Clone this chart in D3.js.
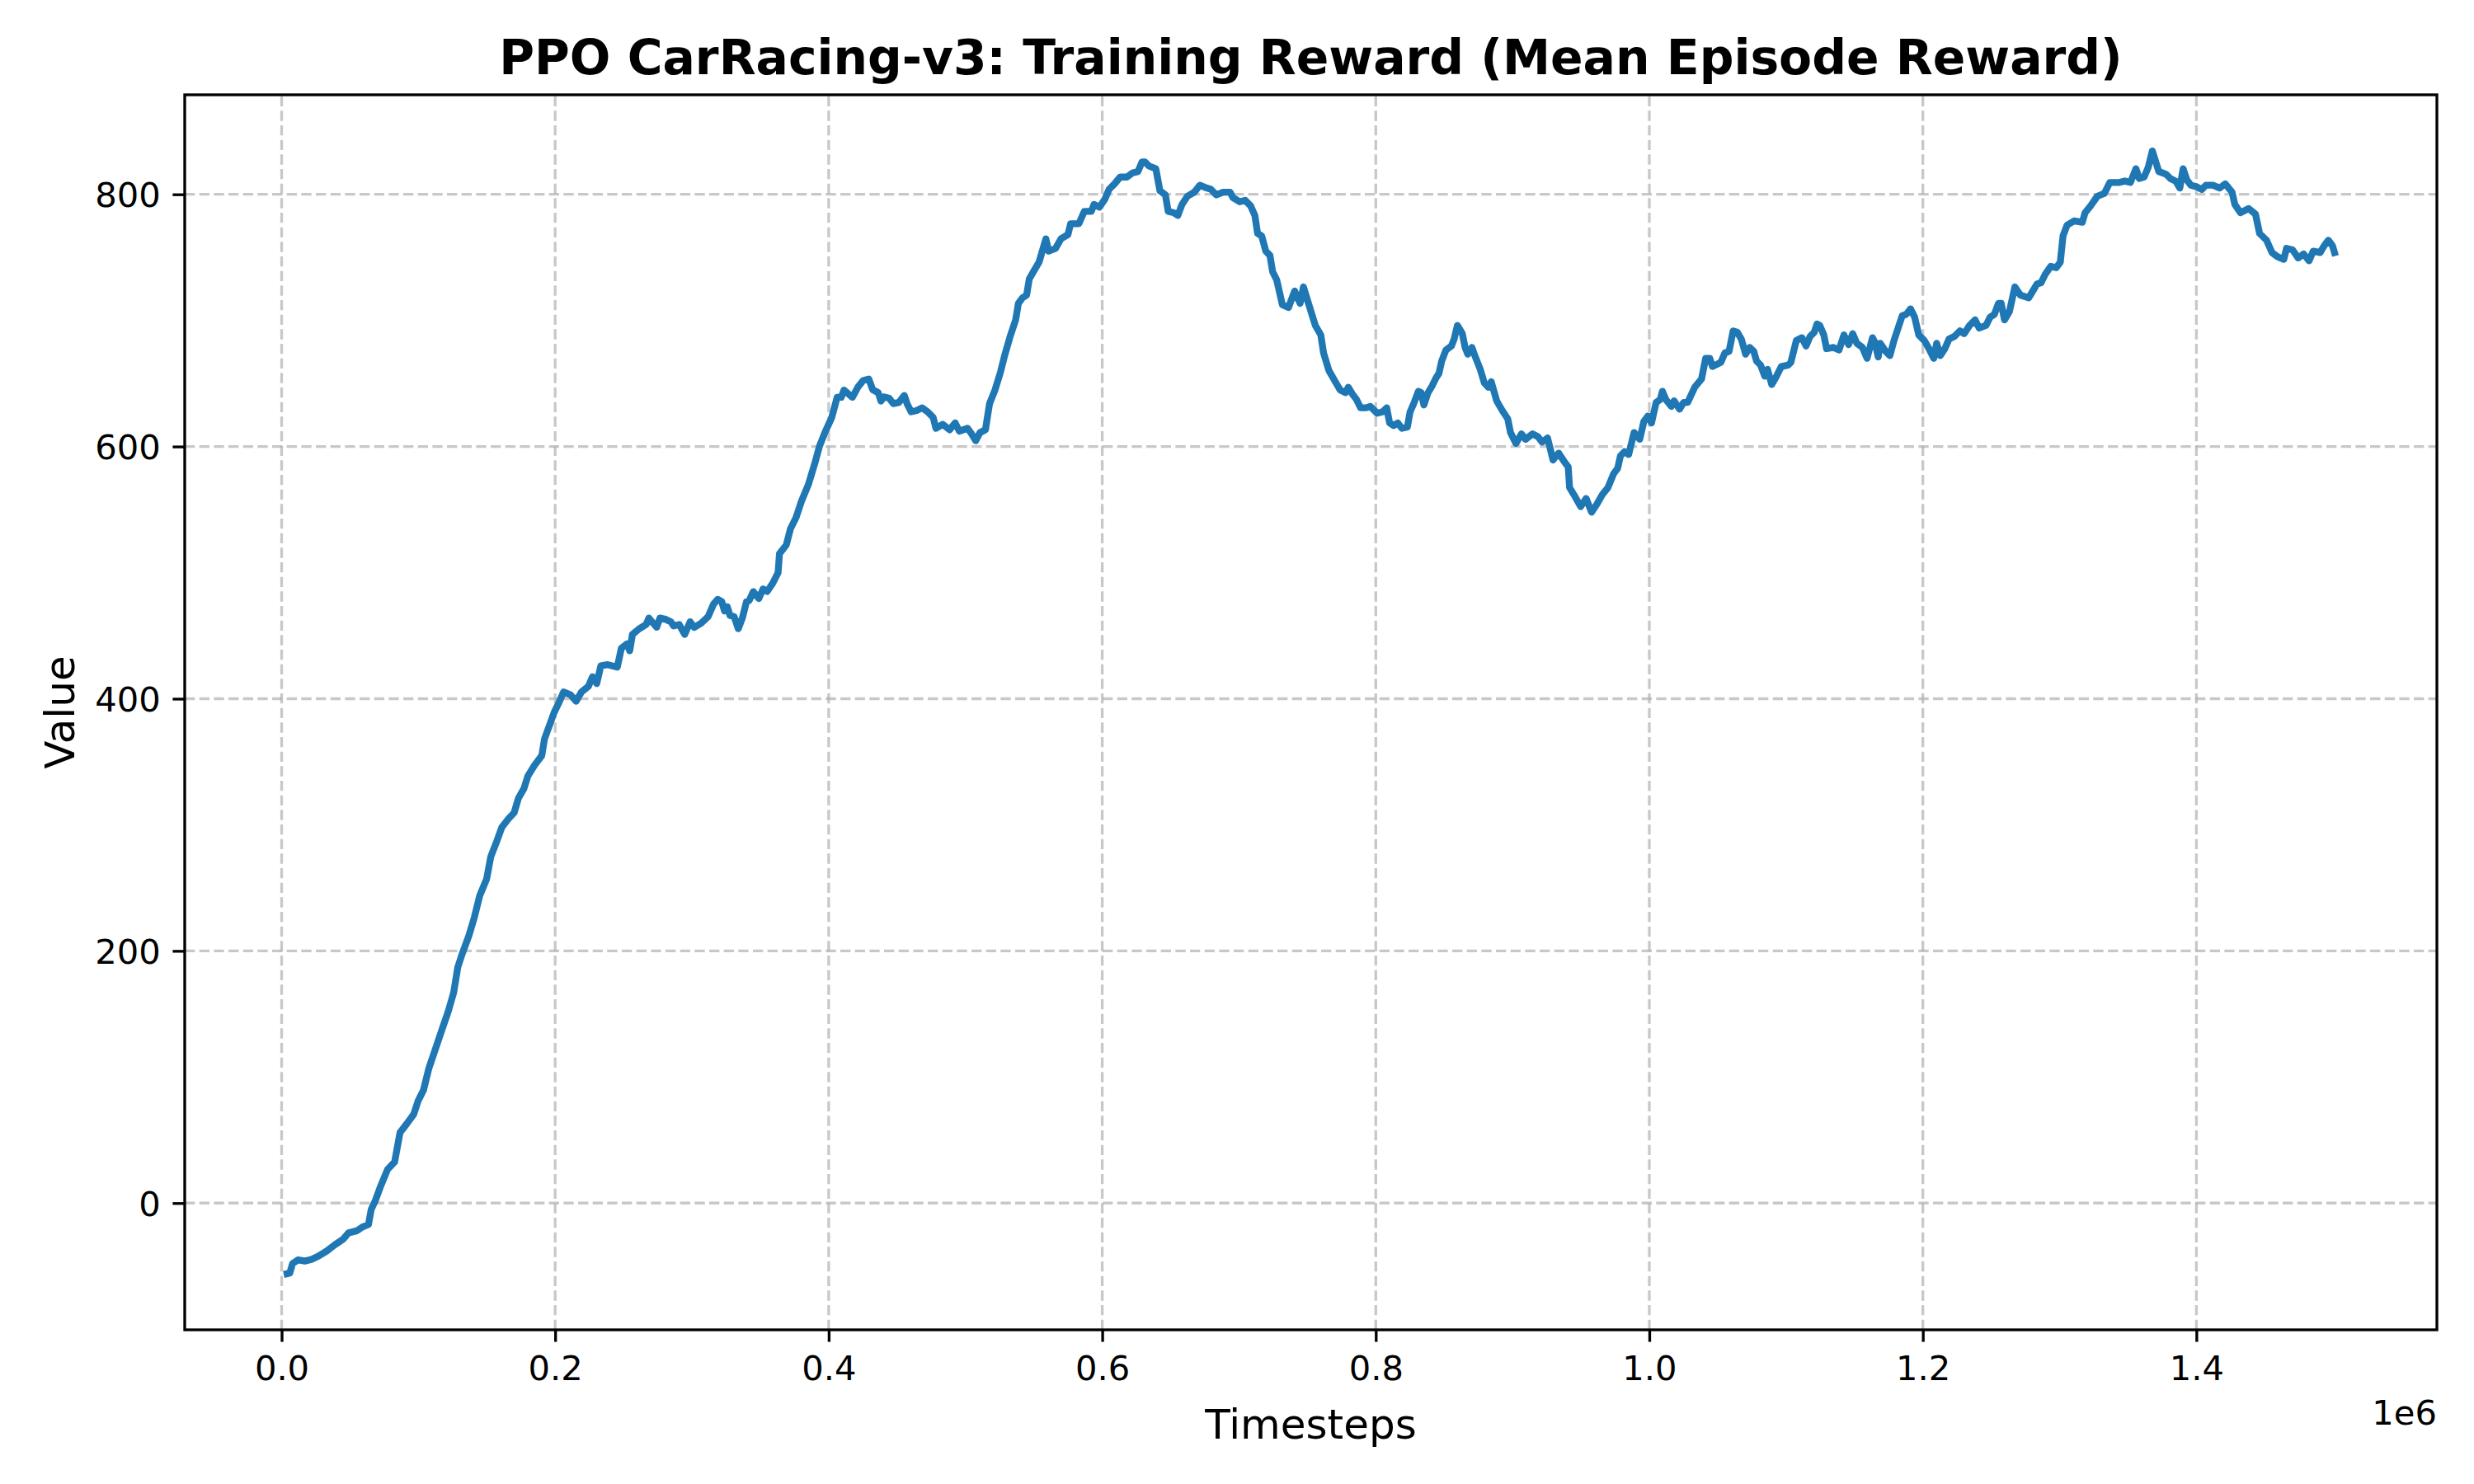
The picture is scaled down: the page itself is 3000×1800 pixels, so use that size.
<!DOCTYPE html>
<html>
<head>
<meta charset="utf-8">
<script src="https://cdn.jsdelivr.net/npm/d3@7"></script>
<style>
    body { margin: 0; background: #fff; }
    text { font-family: "DejaVu Sans", sans-serif; fill: #000; }
</style>
</head>
<body>
<div id="chart"></div>
<script>
// mean episode reward
var timesteps = [4000, 6000, 8000, 12000, 17000, 22000, 27000, 33000, 39000, 45000, 49000, 55000, 59000, 63500, 65500, 68500, 72500, 77500, 82600, 86600,
    91600, 96600, 99700, 103700, 107700, 112700, 117700, 121800, 125800, 128800, 131800, 136900, 140900, 144900, 149900, 152900, 157000, 161000, 166000, 170000,
    173100, 177100, 180100, 185100, 190200, 192200, 196200, 199200, 202200, 206200, 211300, 215300, 219300, 224300, 227300, 230400, 233400, 238400, 245400, 248400,
    252500, 254500, 256500, 261500, 266500, 268500, 274200, 276600, 280600, 284600, 286600, 290700, 294700, 298700, 301700, 306700, 311800, 315800, 318800, 321800,
    323800, 325800, 327800, 330900, 333900, 336900, 339900, 341900, 344900, 348900, 352000, 355000, 359000, 363000, 364000, 369000, 372100, 376100, 380100, 385100,
    390200, 393200, 397200, 402200, 406200, 409200, 411200, 417300, 421300, 425300, 429300, 432200, 436200, 438200, 440200, 444200, 447200, 451300, 455300, 457300,
    460300, 464300, 468300, 472400, 476400, 478400, 483400, 488400, 492500, 495500, 501500, 504500, 507500, 510600, 514600, 517600, 521600, 525600, 528600, 532700,
    536700, 538700, 541700, 544700, 546700, 550800, 553800, 558800, 560800, 565800, 569800, 574900, 576900, 582900, 586900, 592000, 594000, 598000, 602000, 605000,
    609000, 613100, 618100, 622100, 626100, 629100, 631200, 634200, 639200, 642200, 646200, 648200, 652300, 655300, 658300, 662300, 667300, 671400, 676400, 679400,
    683400, 688400, 693500, 695500, 700500, 704500, 708500, 711600, 713600, 716600, 719600, 722600, 724600, 727600, 731700, 736200, 740700, 744700, 747100, 750800,
    755800, 759800, 761800, 765800, 769800, 773900, 777900, 779900, 782900, 785900, 788900, 793000, 796000, 801000, 805000, 808000, 810100, 813100, 816100, 819100,
    823100, 825100, 828100, 831200, 833200, 835200, 838200, 841200, 844200, 846200, 848200, 851300, 855300, 857300, 859700, 863300, 865300, 867300, 870300, 872400,
    876400, 879400, 882400, 884400, 888400, 892500, 896500, 898500, 902500, 906500, 909500, 914600, 918600, 921600, 925600, 929600, 933700, 937700, 940700, 941700,
    944700, 949800, 953800, 957800, 961800, 965800, 969800, 973900, 976900, 978900, 981900, 984900, 988900, 993000, 996000, 999000, 1001600, 1005000, 1008000, 1009600,
    1012100, 1016100, 1018100, 1022100, 1025100, 1028100, 1033200, 1038200, 1041200, 1044200, 1046200, 1052300, 1055300, 1058300, 1061300, 1064300, 1067300, 1070400, 1073400, 1076400,
    1078400, 1081400, 1084400, 1086400, 1089500, 1092500, 1096500, 1101500, 1103500, 1107500, 1111600, 1114600, 1117600, 1120600, 1122600, 1124600, 1127600, 1129600, 1134700, 1138700,
    1142300, 1145700, 1148700, 1151700, 1155800, 1159200, 1163200, 1164800, 1167400, 1168800, 1172900, 1175900, 1178900, 1181900, 1184900, 1187900, 1191000, 1194000, 1197000, 1201000,
    1204000, 1208000, 1210100, 1212700, 1216100, 1219100, 1223100, 1227100, 1230200, 1234200, 1238200, 1241200, 1246200, 1249200, 1252300, 1255300, 1257300, 1259700, 1263300, 1267300,
    1271400, 1277400, 1280400, 1283400, 1286400, 1289400, 1293500, 1297500, 1300500, 1302500, 1305500, 1310600, 1316600, 1318600, 1322600, 1327600, 1332700, 1336700, 1343700, 1347700,
    1351800, 1355800, 1358200, 1361800, 1364800, 1367800, 1372500, 1377900, 1380900, 1384900, 1387900, 1390300, 1393000, 1396000, 1400000, 1404000, 1407000, 1412100, 1417100, 1421100,
    1426100, 1428100, 1432200, 1438200, 1443200, 1446200, 1451300, 1455300, 1459300, 1463900, 1465900, 1470300, 1474400, 1478400, 1482400, 1485400, 1490500, 1493500, 1496500, 1499500,
    1501000];

var rewards = [-56, -55.5, -48, -45, -46, -44.6, -42, -38, -33, -28.6, -23.6, -22, -19, -17, -5, 2, 13.7, 26.8, 32.6, 56,
    63, 70.5, 80.8, 89.5, 107, 123, 139, 152, 167, 187, 197, 212, 226.5, 244, 257, 274.6, 286, 298, 305, 309.6,
    321, 328.6, 338.8, 347.5, 354.8, 368, 380, 389, 395.6, 405.4, 403, 398, 405.4, 409.8, 417.4, 412, 426, 427, 425, 440,
    443.5, 438, 451, 455.5, 458.8, 464, 456.6, 464, 463, 461, 457.7, 458.8, 451, 461, 456.6, 459.8, 465, 475, 478.8, 477,
    469.6, 473, 466, 465, 455.5, 464, 477, 478, 484.9, 479.4, 487, 485, 491.4, 500, 515, 521.9, 535, 543.6, 556.7, 569.7,
    588, 600, 611, 623, 639, 639, 644.8, 639, 647, 652.4, 653.5, 645, 642.7, 636, 639.4, 638.3, 634, 635, 640.5, 634,
    627.5, 628.5, 630.7, 627.5, 623, 614.4, 617.6, 613.3, 618.7, 612.2, 614.4, 610, 604.6, 611, 613.3, 634, 644.9, 659, 672, 687.4,
    700.4, 713.5, 717.9, 720, 733, 740.7, 746.2, 764.7, 754.9, 757, 764.7, 768, 776.7, 776.7, 786.5, 786.5, 792, 789.8, 796.3, 804,
    808.3, 813.7, 813.7, 817, 818, 825.7, 825.7, 822.4, 820.3, 802.8, 799.6, 786.5, 785.4, 783.2, 792, 798.5, 801.7, 807.2, 805, 804,
    799.6, 801.7, 801.7, 797.4, 794.1, 795.2, 790.8, 783.2, 769, 766.9, 754.9, 751.6, 738.6, 732, 712.4, 710.2, 723.3, 713.5, 726.6, 713.5,
    696, 688.5, 674.3, 660.1, 652.5, 644.9, 642.7, 647, 641.6, 637.3, 630.7, 630.7, 631.8, 626.4, 627.5, 630.7, 618.7, 616.6, 618.7, 614.4,
    615.5, 627.5, 635, 643.8, 642.7, 632.9, 642.7, 648.1, 654.7, 658, 667.8, 676.5, 679.7, 685.2, 696, 689.5, 678.6, 673.2, 678.6, 672.1,
    661.2, 650.3, 647, 651.4, 636.2, 628.5, 622, 611.1, 602.4, 610, 605.7, 610, 607.8, 603.5, 606.8, 589.3, 594.8, 588.2, 583.9, 567.5,
    562.1, 552.3, 558.8, 547.9, 554.5, 562.1, 567.5, 578.4, 582.8, 592.6, 595.9, 593.7, 611.1, 605.7, 619.8, 624.2, 618.7, 635, 637.3, 643.8,
    637.3, 631.8, 636.2, 629.6, 635, 635, 647, 653.6, 669.9, 669.9, 663.4, 666.7, 674.3, 675.4, 691.7, 690.6, 685.2, 673.2, 678.6, 675.4,
    667.8, 664.5, 655.8, 661.2, 649.2, 654.7, 663.4, 664.5, 666.7, 684.1, 686.3, 679.7, 687.4, 690.6, 697.2, 696.1, 688.5, 677.6, 678.6, 676.5,
    688.5, 680.8, 689.5, 681.9, 678.6, 669.9, 686.3, 683, 671, 681.9, 675.4, 672.1, 684.1, 693.9, 703.7, 704.8, 709.2, 702.6, 688.5, 684.1,
    678.6, 669.9, 681.9, 672.1, 677.6, 685.2, 687.4, 691.7, 689.5, 696.1, 700.4, 693.9, 696.1, 702.6, 704.8, 713.5, 713.5, 700.4, 707, 726.6,
    720, 717.9, 723.3, 728.8, 729.8, 736.4, 742.9, 741.8, 746.2, 767.1, 775.6, 778.9, 777.8, 785.4, 790.8, 798.5, 800.7, 809.4, 809.4, 810.5,
    809.4, 820.3, 812.6, 813.7, 821.4, 834.4, 818.1, 815.9, 812.6, 810.5, 805, 820.3, 811.5, 807.2, 806.1, 803.9, 807.2, 807.2, 805, 808.3,
    801.7, 792, 785.4, 788.7, 784.3, 769, 763.6, 753.8, 750.5, 748.4, 757.1, 756, 749.5, 752.7, 747.3, 754.9, 753.8, 759.3, 763.6, 759.3,
    753.8];

var xTicks = [0, 200000, 400000, 600000, 800000, 1000000, 1200000, 1400000];
var yTicks = [0, 200, 400, 600, 800];

var titleText = "PPO CarRacing-v3: Training Reward (Mean Episode Reward)";
var xLabel = "Timesteps";
var yLabel = "Value";
var offsetLabel = "1e6";

window.onload = function(){
    var width = 3000,
        height = 1800;
    // axes box in pixels (matplotlib 10x6 at 300 dpi)
    var margin = {top: 115, right: 45, bottom: 187, left: 224};
    var pt = 300 / 72;

    var svg = d3.select("#chart")
                .append("svg")
                .attr("width", width)
                .attr("height", height);

    svg.append("rect")
        .attr("width", width)
        .attr("height", height)
        .attr("fill", "#fff");

    // matplotlib style 5% padding around the data
    var xExt = d3.extent(timesteps),
        yExt = d3.extent(rewards);
    var xPad = (xExt[1] - xExt[0]) * 0.05,
        yPad = (yExt[1] - yExt[0]) * 0.05;

    var x = d3.scaleLinear()
        .domain([xExt[0] - xPad, xExt[1] + xPad])
        .range([margin.left, width - margin.right]);
    var y = d3.scaleLinear()
        .domain([yExt[0] - yPad, yExt[1] + yPad])
        .range([height - margin.bottom, margin.top]);

    var x0 = margin.left, x1 = width - margin.right;
    var y0 = height - margin.bottom, y1 = margin.top;

    // dashed grid, drawn first so the curve sits on top
    var grid = svg.append("g").attr("class", "grid")
        .attr("stroke", "#b0b0b0")
        .attr("stroke-opacity", 0.7)
        .attr("stroke-width", 0.8 * pt)
        .attr("stroke-dasharray", (2.96 * pt) + "," + (1.28 * pt));

    grid.selectAll(".gx")
        .data(xTicks)
        .enter()
        .append("line")
        .attr("x1", d => x(d))
        .attr("x2", d => x(d))
        .attr("y1", y0)
        .attr("y2", y1);

    grid.selectAll(".gy")
        .data(yTicks)
        .enter()
        .append("line")
        .attr("x1", x0)
        .attr("x2", x1)
        .attr("y1", d => y(d))
        .attr("y2", d => y(d));

    // the reward curve
    var points = timesteps.map(function(t, i){ return [t, rewards[i]]; });
    var line = d3.line()
        .x(d => x(d[0]))
        .y(d => y(d[1]));

    svg.append("path")
        .datum(points)
        .attr("d", line)
        .attr("fill", "none")
        .attr("stroke", "#1f77b4")
        .attr("stroke-width", 2 * pt)
        .attr("stroke-linejoin", "round")
        .attr("stroke-linecap", "square");

    // axes
    var fontTick = 10 * pt;
    var tickLen = 3.5 * pt;

    var xAxis = svg.append("g")
        .attr("transform", "translate(0," + y0 + ")")
        .call(d3.axisBottom(x)
            .tickValues(xTicks)
            .tickSizeInner(tickLen)
            .tickSizeOuter(0)
            .tickPadding(3.5 * pt)
            .tickFormat(d => (d / 1e6).toFixed(1)));

    var yAxis = svg.append("g")
        .attr("transform", "translate(" + x0 + ",0)")
        .call(d3.axisLeft(y)
            .tickValues(yTicks)
            .tickSizeInner(tickLen)
            .tickSizeOuter(0)
            .tickPadding(3.5 * pt)
            .tickFormat(d3.format("d")));

    [xAxis, yAxis].forEach(function(ax){
        ax.select(".domain").remove();
        ax.selectAll(".tick line")
            .attr("stroke", "#000")
            .attr("stroke-width", 0.8 * pt);
        ax.selectAll(".tick text")
            .attr("font-size", fontTick)
            .attr("font-family", "DejaVu Sans")
            .attr("fill", "#000");
    });
    xAxis.selectAll(".tick text").attr("dy", "0.76em");
    yAxis.selectAll(".tick text").attr("dy", "0.36em");

    // frame
    svg.append("rect")
        .attr("x", x0)
        .attr("y", y1)
        .attr("width", x1 - x0)
        .attr("height", y0 - y1)
        .attr("fill", "none")
        .attr("stroke", "#000")
        .attr("stroke-width", 0.8 * pt);

    // texts
    svg.append("text")
        .attr("x", (x0 + x1) / 2)
        .attr("y", y1 - 6 * pt)
        .attr("text-anchor", "middle")
        .attr("font-size", 14 * pt)
        .attr("font-weight", "bold")
        .text(titleText);

    svg.append("text")
        .attr("x", (x0 + x1) / 2)
        .attr("y", 1745)
        .attr("text-anchor", "middle")
        .attr("font-size", 12 * pt)
        .text(xLabel);

    svg.append("text")
        .attr("transform", "translate(90," + ((y0 + y1) / 2) + ") rotate(-90)")
        .attr("text-anchor", "middle")
        .attr("font-size", 12 * pt)
        .text(yLabel);

    svg.append("text")
        .attr("x", x1)
        .attr("y", 1728)
        .attr("text-anchor", "end")
        .attr("font-size", fontTick)
        .text(offsetLabel);
};
</script>
</body>
</html>
